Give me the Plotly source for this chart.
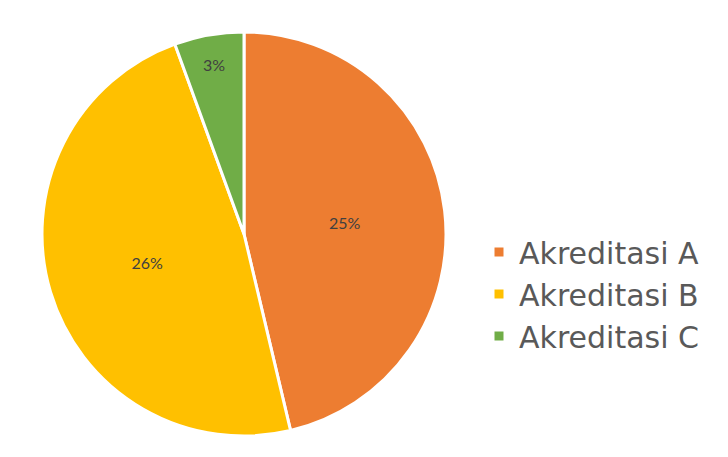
import plotly.graph_objects as go

labels = ["Akreditasi A", "Akreditasi B", "Akreditasi C"]
values = [25, 26, 3]
text_labels = ["25%", "26%", "3%"]
colors = ["#ED7D31", "#FFC000", "#70AD47"]

W, H = 728, 457
cx, cy, r = 244, 234, 202

fig = go.Figure(go.Pie(
    labels=labels,
    values=values,
    text=text_labels,
    textinfo="text",
    textposition="inside",
    insidetextorientation="horizontal",
    sort=False,
    direction="clockwise",
    rotation=0,
    marker=dict(colors=colors, line=dict(color="white", width=3)),
    textfont=dict(family="Lato, Open Sans, sans-serif", size=16, color="#404040"),
    domain=dict(x=[(cx - r) / W, (cx + r) / W], y=[(H - cy - r) / H, (H - cy + r) / H]),
    hoverinfo="label+value",
))

fig.update_layout(
    width=W, height=H,
    margin=dict(l=0, r=0, t=0, b=0),
    paper_bgcolor="white",
    plot_bgcolor="white",
    showlegend=True,
    legend=dict(
        x=479 / W, y=(H - 294) / H, xanchor="left", yanchor="middle",
        font=dict(family="DejaVu Sans, Open Sans, sans-serif", size=30, color="#595959"),
        itemwidth=30,
    ),
)

fig.write_html("out.html")
